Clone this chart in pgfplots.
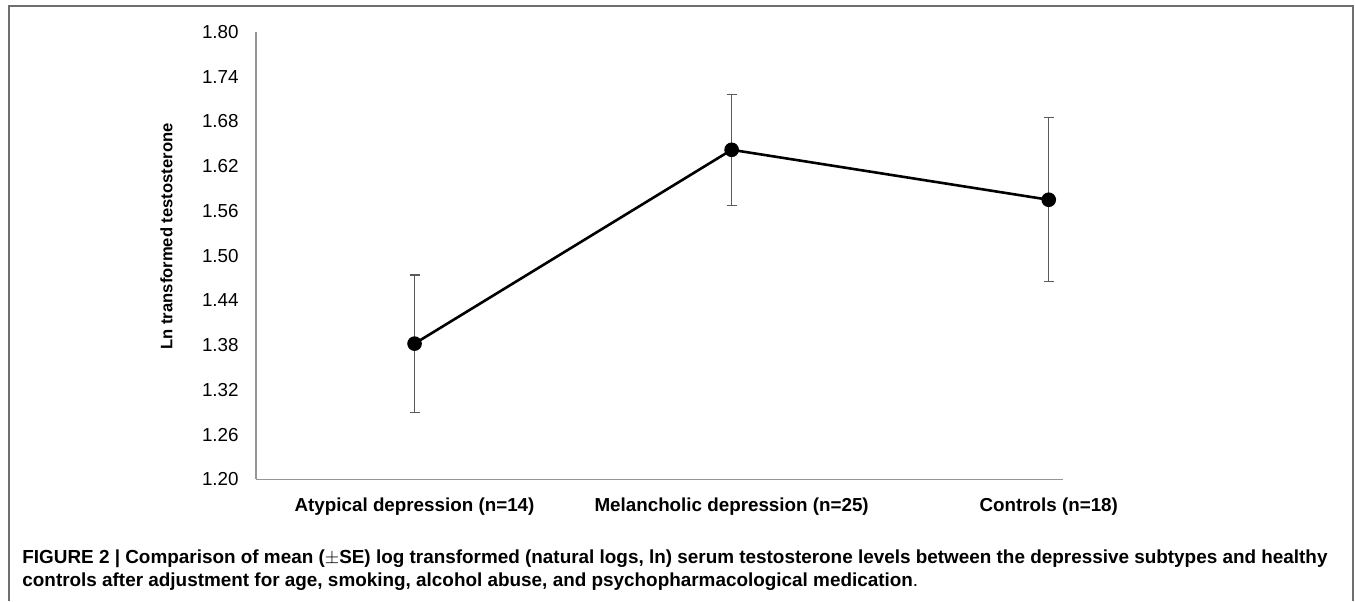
\documentclass[border=0pt]{standalone}
\usepackage{pgfplots}
\pgfplotsset{compat=1.18}
\usepackage{fontspec}
\setmainfont{Liberation Sans}
\definecolor{axisgray}{RGB}{150,150,150}
\definecolor{framegray}{RGB}{110,110,110}
\definecolor{errgray}{RGB}{90,90,90}
\pgfplotstableread{
x y e
0 1.382 0.092
1 1.642 0.0745
2 1.575 0.110
}\means
\begin{document}
\begin{tikzpicture}
\begin{scope}[x=0.5pt,y=0.5pt]
\path[use as bounding box] (0,0) rectangle (1355,601);
\draw[framegray, line width=1pt] (9,0) -- (9,595) -- (1353,595) -- (1353,0);
\node[anchor=base west, inner sep=0pt, font=\fontsize{9.45}{11}\selectfont\bfseries] at (22,38)
  {FIGURE 2 | Comparison of mean ($\pm$SE) log transformed (natural logs, ln) serum testosterone levels between the depressive subtypes and healthy};
\node[anchor=base west, inner sep=0pt, font=\fontsize{9.45}{11}\selectfont] at (22,15)
  {\bfseries controls after adjustment for age, smoking, alcohol abuse, and psychopharmacological medication\mdseries.};
\end{scope}
\begin{axis}[
  at={(128pt,60.85pt)}, anchor=south west,
  width=403.5pt, height=223.65pt, scale only axis,
  xmin=-0.5, xmax=2.045, ymin=1.2, ymax=1.8,
  axis lines*=left,
  axis line style={draw=axisgray, line width=0.8pt},
  xtick={0,1,2},
  xticklabels={Atypical depression (n=14), Melancholic depression (n=25), Controls (n=18)},
  ytick={1.20,1.26,1.32,1.38,1.44,1.50,1.56,1.62,1.68,1.74,1.80},
  major tick length=0pt, tick style={draw=none},
  /pgf/number format/assume math mode=true,
  yticklabel style={/pgf/number format/.cd, fixed, fixed zerofill, precision=2, /tikz/.cd,
    font=\fontsize{9.4}{11}\selectfont, anchor=east, inner sep=0pt, xshift=-8.5pt},
  xticklabel style={font=\fontsize{9.4}{11}\selectfont\bfseries, anchor=north, inner sep=0pt, yshift=-9pt},
  ylabel={Ln transformed testosterone},
  every axis y label/.style={at={(axis description cs:-0.111,0.543)}, rotate=90, anchor=center,
    font=\fontsize{8.3}{10}\selectfont\bfseries},
  clip=false,
]
\addplot[black, line width=1.3pt, mark=*, mark size=3.4pt, mark options={line width=0.5pt},
  error bars/.cd, y dir=both, y explicit,
  error bar style={line width=0.7pt, draw=errgray},
  error mark=-,
  error mark options={rotate=90, line width=0.7pt, draw=errgray, mark size=2.5pt}]
  table[x=x, y=y, y error=e] {\means};
\end{axis}
\end{tikzpicture}
\end{document}
